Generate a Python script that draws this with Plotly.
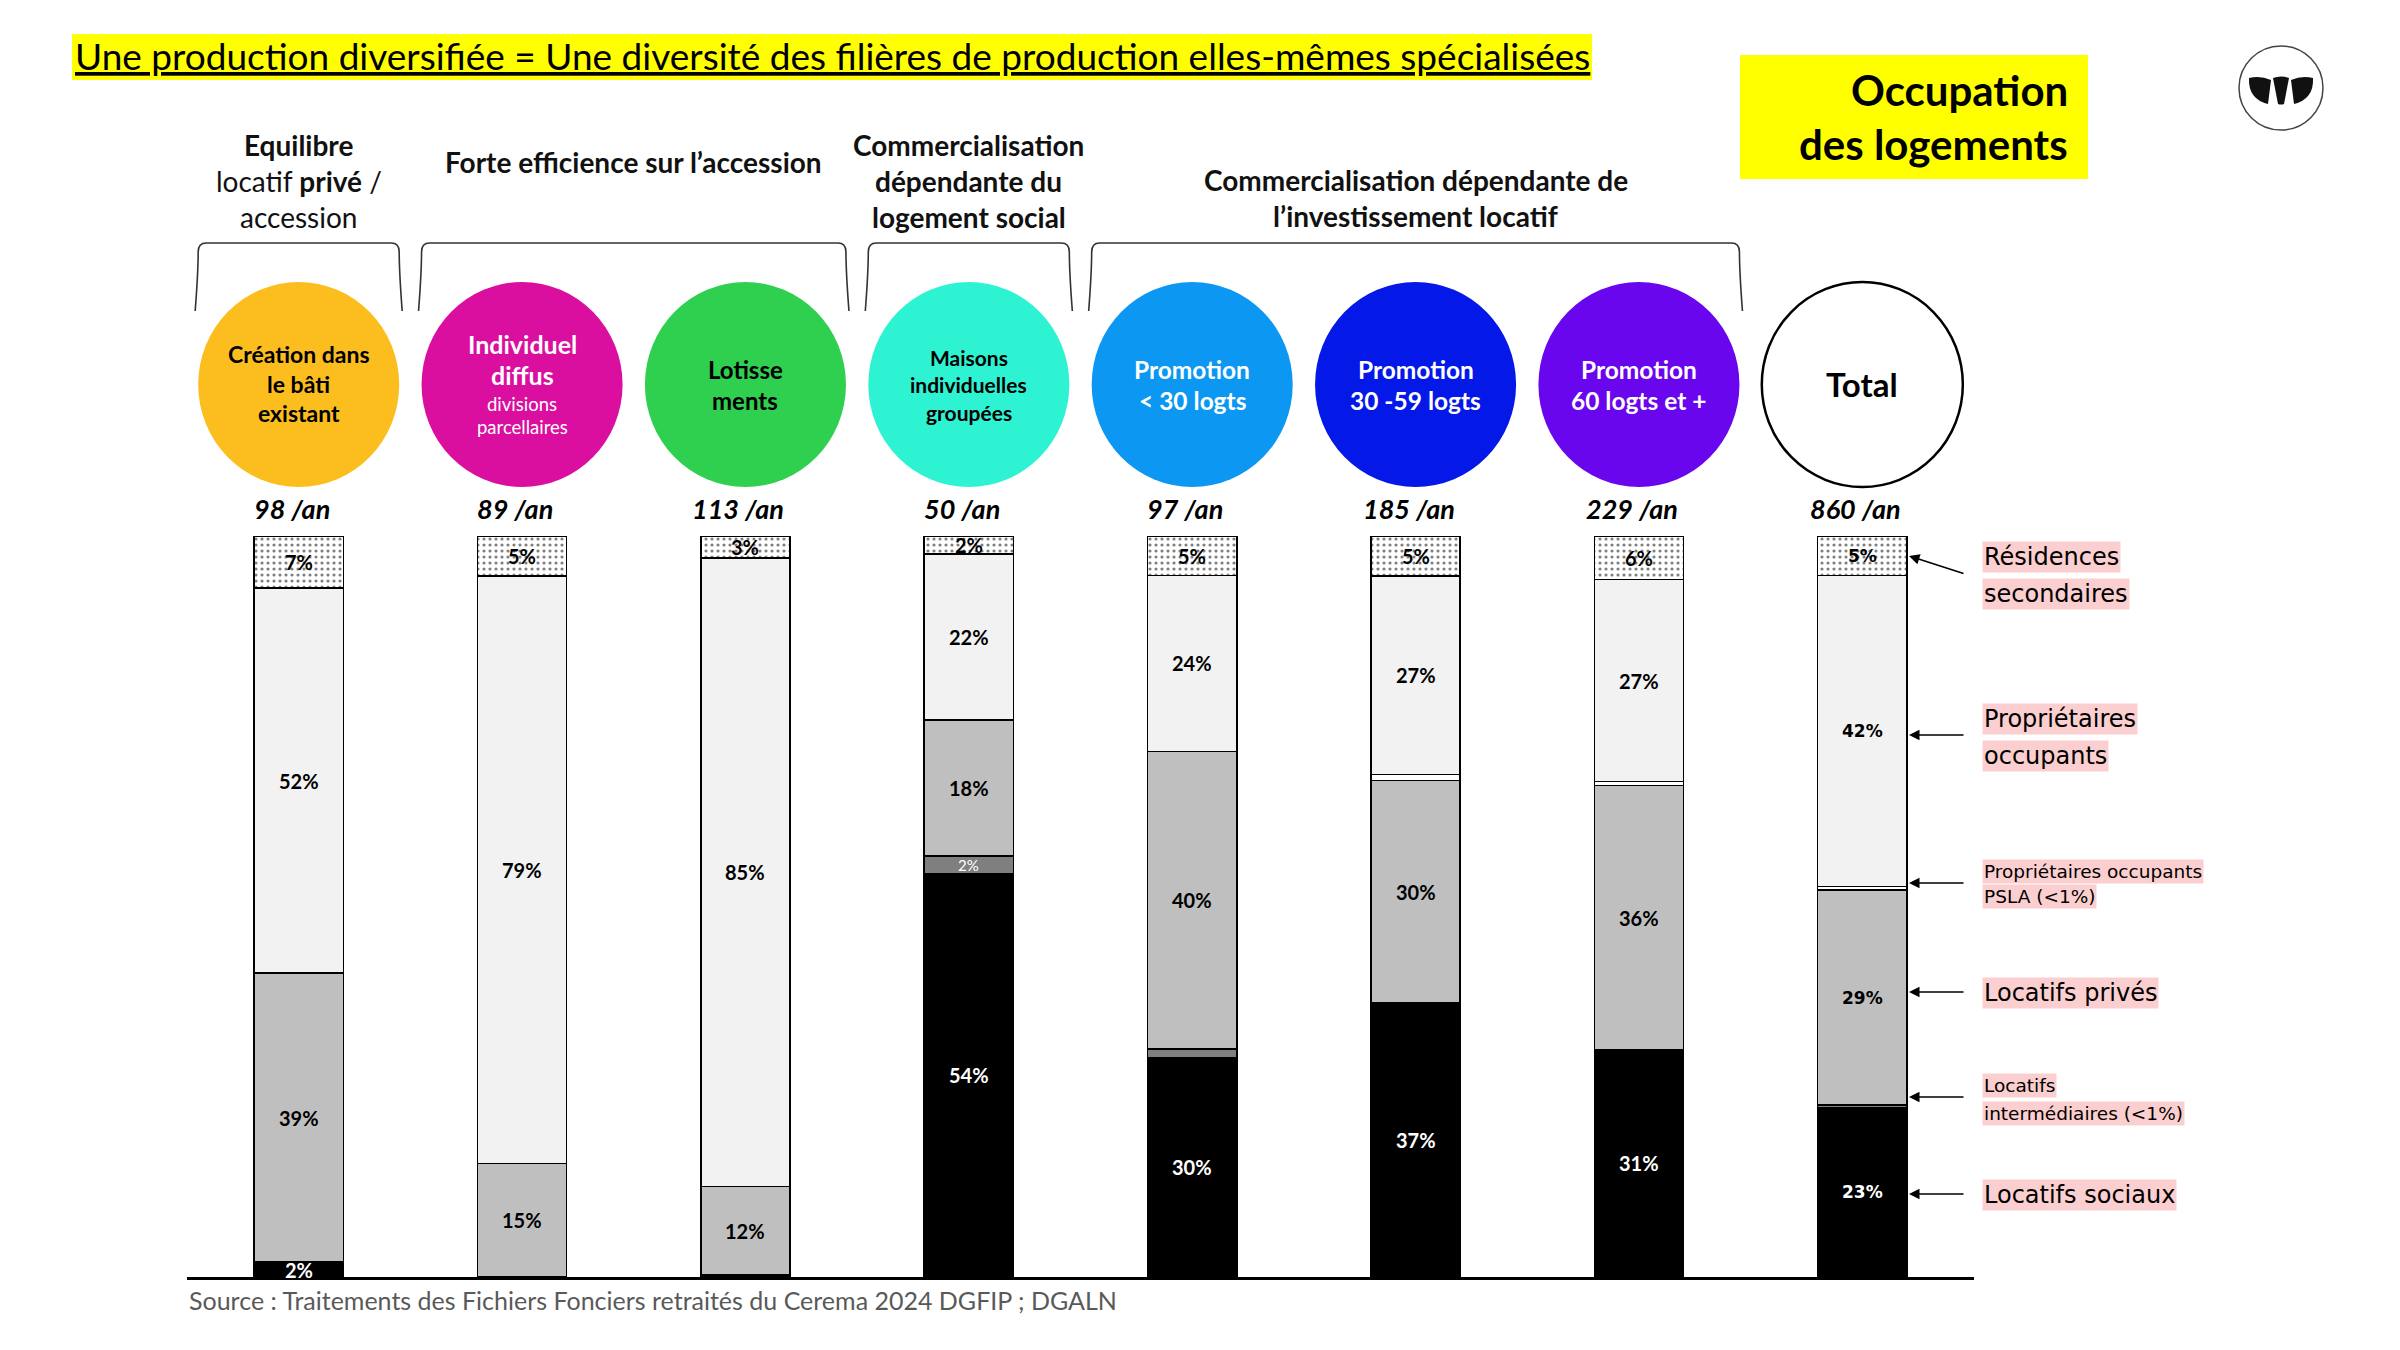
import plotly.graph_objects as go

W, H = 2400, 1350
FONT = "Lato"
VFONT = "DejaVu Sans"

# ---------------- data ----------------
categories = ["Création dans le bâti existant", "Individuel diffus", "Lotissements",
              "Maisons individuelles groupées", "Promotion < 30 logts",
              "Promotion 30-59 logts", "Promotion 60 logts et +", "Total"]
per_year = [98, 89, 113, 50, 97, 185, 229, 860]

residences_secondaires = [7, 5.4, 3, 2.4, 5.3, 5.4, 5.9, 5.3]
proprietaires_occupants = [52, 79.3, 84.8, 22.4, 23.8, 26.8, 27.2, 42.0]
proprietaires_psla = [0, 0, 0, 0, 0, 0.8, 0.6, 0.5]
locatifs_prives = [39, 15.3, 11.9, 18.4, 40.1, 30.0, 35.6, 29.0]
locatifs_intermediaires = [0, 0, 0, 2.4, 1.2, 0, 0, 0.3]
locatifs_sociaux = [2, 0, 0.3, 54.4, 29.6, 37.0, 30.7, 22.9]

circle_colors = ["#FBBE1E", "#DA0FA0", "#2FCF50", "#2EF3D3", "#0C98F2", "#0418E8", "#6A06EE", "#FFFFFF"]

groups = [  # (first index, last index, header lines)
    (0, 0, ["<b>Equilibre</b>", "locatif <b>privé</b> /", "accession"]),
    (1, 2, ["<b>Forte efficience sur l’accession</b>"]),
    (3, 3, ["<b>Commercialisation</b>", "<b>dépendante du</b>", "<b>logement social</b>"]),
    (4, 6, ["<b>Commercialisation dépendante de</b>", "<b>l’investissement locatif</b>"]),
]

# ---------------- geometry helpers ----------------
X0_PX, X1_PX = 187, 1974
Y_BASE_PX, Y_TOP_PX = 1277, 536
STEP = (X1_PX - X0_PX) / len(categories)


def px(x):
    return x / W


def py(y):
    return 1 - y / H


def cx(i):
    return X0_PX + (i + 0.5) * STEP


fig = go.Figure()

series = [
    ("Locatifs sociaux", locatifs_sociaux, dict(color="#000000"), "white"),
    ("Locatifs intermédiaires", locatifs_intermediaires, dict(color="#7F7F7F"), "white"),
    ("Locatifs privés", locatifs_prives, dict(color="#BFBFBF"), "black"),
    ("Propriétaires occupants PSLA", proprietaires_psla, dict(color="#FFFFFF"), "black"),
    ("Propriétaires occupants", proprietaires_occupants, dict(color="#F2F2F2"), "black"),
    ("Résidences secondaires", residences_secondaires,
     dict(color="#FFFFFF", pattern=dict(shape=".", fgcolor="#000000", bgcolor="#FFFFFF",
                                        size=6, solidity=0.22)), "black"),
]

for name, vals, marker, _ in series:
    fig.add_trace(go.Bar(
        x=categories, y=vals, name=name, width=0.4,
        marker=dict(**marker, line=dict(color="black", width=1.5)),
        hovertemplate="%{x}<br>" + name + ": %{y:.1f}%<extra></extra>",
    ))

annotations = []
shapes = []


def ann(x, y, text, size, color="black", family=FONT, xanchor="center", yanchor="middle",
        xref="paper", yref="paper", **kw):
    annotations.append(dict(x=x, y=y, text=text, xref=xref, yref=yref, showarrow=False,
                            xanchor=xanchor, yanchor=yanchor,
                            font=dict(family=family, size=size, color=color), **kw))


# percentage labels in the segments
for i in range(len(categories)):
    base = 0
    for name, vals, marker, tcolor in series:
        v = vals[i]
        if v >= 1.5:
            label = f"{v:.0f}%"
            if i == len(categories) - 1:
                ann(categories[i], base + v / 2, f"<b>{label}</b>", 17, tcolor, VFONT,
                    xref="x", yref="y")
            elif name == "Locatifs intermédiaires":
                ann(categories[i], base + v / 2, label, 15, tcolor, FONT, xref="x", yref="y")
            else:
                ann(categories[i], base + v / 2, f"<b>{label}</b>", 20, tcolor, FONT,
                    xref="x", yref="y")
        base += v

# "/an" labels
for i, n in enumerate(per_year):
    ann(categories[i], py(508), f"<b><i>{n} /an</i></b>", 27, "black", FONT, xref="x", xshift=-7)

# circles
for i, col in enumerate(circle_colors):
    last = i == len(circle_colors) - 1
    shapes.append(dict(type="circle", xref="x", yref="paper",
                       x0=i - 0.45, x1=i + 0.45, y0=py(487), y1=py(282),
                       fillcolor=col, line=dict(color="black" if last else col,
                                                width=2.5 if last else 0),
                       layer="above"))

circle_text = [
    [("<b>Création dans</b>", 354, 23, "black"), ("<b>le bâti</b>", 384, 23, "black"),
     ("<b>existant</b>", 413, 23, "black")],
    [("<b>Individuel</b>", 344, 25, "white"), ("<b>diffus</b>", 375, 25, "white"),
     ("divisions", 404, 18.5, "white"), ("parcellaires", 427, 18.5, "white")],
    [("<b>Lotisse</b>", 369, 24, "black"), ("<b>ments</b>", 401, 24, "black")],
    [("<b>Maisons</b>", 357, 21, "black"), ("<b>individuelles</b>", 384, 21, "black"),
     ("<b>groupées</b>", 412, 21, "black")],
    [("<b>Promotion</b>", 369, 24.5, "white"), ("<b>&lt; 30 logts</b>", 401, 24.5, "white")],
    [("<b>Promotion</b>", 369, 24.5, "white"), ("<b>30 -59 logts</b>", 401, 24.5, "white")],
    [("<b>Promotion</b>", 369, 24.5, "white"), ("<b>60 logts et +</b>", 401, 24.5, "white")],
    [("<b>Total</b>", 384, 33, "black")],
]
for i, lines in enumerate(circle_text):
    for text, ypx, size, col in lines:
        ann(categories[i], py(ypx), text, size, col, FONT, xref="x")

# group headers and brackets
for a, b, lines in groups:
    xl = cx(a) - 0.45 * STEP
    xr = cx(b) + 0.45 * STEP
    xm = (cx(a) + cx(b)) / 2
    ytop, ybot = 243, 311
    if len(lines) == 1:
        ys = [162]
    elif len(lines) == 2:
        ys = [180, 216]
    else:
        ys = [145, 181, 217]
    for t, y in zip(lines, ys):
        ann(px(xm), py(y), t, 28, "#111111", FONT)
    path = (f"M {px(xl - 3)},{py(ybot)} C {px(xl - 1)},{py(285)} {px(xl)},{py(262)} {px(xl)},{py(252)} "
            f"Q {px(xl)},{py(ytop)} {px(xl + 8)},{py(ytop)} L {px(xr - 8)},{py(ytop)} "
            f"Q {px(xr)},{py(ytop)} {px(xr)},{py(252)} C {px(xr)},{py(262)} {px(xr + 1)},{py(285)} "
            f"{px(xr + 3)},{py(ybot)}")
    shapes.append(dict(type="path", xref="paper", yref="paper", path=path,
                       line=dict(color="#333333", width=1.6)))

# title
shapes.append(dict(type="rect", xref="paper", yref="paper", x0=px(72), x1=px(1592),
                   y0=py(80), y1=py(34), fillcolor="#FFFF00", line=dict(width=0), layer="below"))
ann(px(73), py(55), "<u>Une production diversifiée = Une diversité des filières de production elles-mêmes spécialisées</u>",
    37, "black", FONT, xanchor="left")

# occupation box
shapes.append(dict(type="rect", xref="paper", yref="paper", x0=px(1740), x1=px(2088),
                   y0=py(179), y1=py(55), fillcolor="#FFFF00", line=dict(width=0), layer="below"))
ann(px(2070), py(90), "<b>Occupation</b>", 42, "black", FONT, xanchor="right")
ann(px(2070), py(144), "<b>des logements</b>", 42, "black", FONT, xanchor="right")

# logo
shapes.append(dict(type="circle", xref="paper", yref="paper", x0=px(2239), x1=px(2323),
                   y0=py(130), y1=py(46), line=dict(color="#444444", width=1.5),
                   fillcolor="white"))

leaf_paths = [
    f"M {px(2249)},{py(78)} Q {px(2248)},{py(99)} {px(2268)},{py(104)} L {px(2271)},{py(80)} Q {px(2260)},{py(75)} {px(2249)},{py(78)} Z",
    f"M {px(2273)},{py(78)} Q {px(2281)},{py(75)} {px(2289)},{py(78)} L {px(2284)},{py(104)} Q {px(2281)},{py(105)} {px(2278)},{py(104)} Z",
    f"M {px(2313)},{py(78)} Q {px(2314)},{py(99)} {px(2294)},{py(104)} L {px(2291)},{py(80)} Q {px(2302)},{py(75)} {px(2313)},{py(78)} Z",
]
for p in leaf_paths:
    shapes.append(dict(type="path", xref="paper", yref="paper", path=p,
                       fillcolor="#111111", line=dict(width=0)))

# right-hand legend labels with arrows
PINK = "#FBCFCF"
legend_labels = [
    [("Résidences", 557, 24), ("secondaires", 594, 24)],
    [("Propriétaires", 719, 24), ("occupants", 756, 24)],
    [("Propriétaires occupants", 871, 18.5), ("PSLA (&lt;1%)", 897, 18.5)],
    [("Locatifs privés", 993, 24)],
    [("Locatifs", 1085, 18.5), ("intermédiaires (&lt;1%)", 1113, 18.5)],
    [("Locatifs sociaux", 1195, 24)],
]
for lines in legend_labels:
    for t, y, s in lines:
        ann(px(1982), py(y), t, s, "black", VFONT, xanchor="left", bgcolor=PINK, borderpad=1)

arrows = [((1909, 556), (1965, 574)), ((1909, 735), (1965, 735)), ((1909, 883), (1965, 883)),
          ((1909, 992), (1965, 992)), ((1909, 1097), (1965, 1097)), ((1909, 1194), (1965, 1194))]
for (tx, ty), (sx, sy) in arrows:
    annotations.append(dict(x=px(tx), y=py(ty), xref="paper", yref="paper", text="",
                            showarrow=True, arrowhead=2, arrowsize=1.4, arrowwidth=1.5,
                            arrowcolor="black", ax=sx - tx, ay=sy - ty, standoff=0))

# source
ann(px(187), py(1300), "Source : Traitements des Fichiers Fonciers retraités du Cerema 2024 DGFIP ; DGALN",
    25, "#595959", FONT, xanchor="left")

fig.update_layout(
    width=W, height=H, autosize=False,
    margin=dict(l=0, r=0, t=0, b=0),
    paper_bgcolor="white", plot_bgcolor="white",
    barmode="stack", showlegend=False,
    xaxis=dict(domain=[px(X0_PX), px(X1_PX)], range=[-0.5, 7.5], showline=True,
               linecolor="black", linewidth=2.5, showticklabels=False, ticks="",
               showgrid=False, zeroline=False),
    yaxis=dict(domain=[py(Y_BASE_PX), py(Y_TOP_PX)], range=[0, 100], visible=False),
    annotations=annotations, shapes=shapes,
)

fig.write_html("out.html")
